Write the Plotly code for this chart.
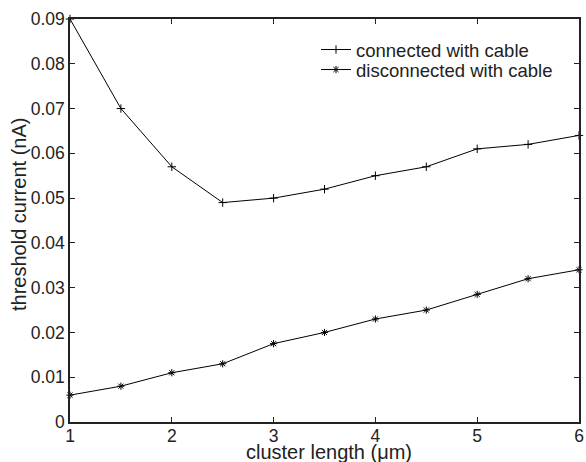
import plotly.graph_objects as go

cluster_length = [1, 1.5, 2, 2.5, 3, 3.5, 4, 4.5, 5, 5.5, 6]
connected = [0.09, 0.07, 0.057, 0.049, 0.05, 0.052, 0.055, 0.057, 0.061, 0.062, 0.064]
disconnected = [0.006, 0.008, 0.011, 0.013, 0.0175, 0.020, 0.023, 0.025, 0.0285, 0.032, 0.034]

x_ticks = [1, 2, 3, 4, 5, 6]
y_ticks = [0, 0.01, 0.02, 0.03, 0.04, 0.05, 0.06, 0.07, 0.08, 0.09]

fig = go.Figure()
fig.add_trace(go.Scatter(
    x=cluster_length, y=connected, mode="lines+markers",
    name="connected with cable", legend="legend",
    line=dict(color="black", width=1),
    marker=dict(symbol="cross-thin", size=6, color="black",
                line=dict(color="black", width=1)),
    cliponaxis=False,
))
fig.add_trace(go.Scatter(
    x=cluster_length, y=disconnected, mode="lines+markers",
    name="disconnected with cable", legend="legend2",
    line=dict(color="black", width=1),
    marker=dict(symbol="asterisk", size=6, color="black",
                line=dict(color="black", width=1)),
    cliponaxis=False,
))

axis_common = dict(
    showline=True, linecolor="#222", linewidth=1.5, mirror="allticks",
    ticks="inside", ticklen=5, tickcolor="#222", showgrid=False,
    zeroline=False, tickfont=dict(size=17.5, color="#222"), automargin=False,
)

L, R, T, B = 70, 7, 19, 40
W, H = 586, 462
plot_w = W - L - R
plot_h = H - T - B


def px_x(px):
    return (px - L) / plot_w


def px_y(py):
    return (H - B - py) / plot_h


legend_common = dict(xanchor="left", yanchor="middle", bgcolor="rgba(0,0,0,0)",
                     borderwidth=0, font=dict(size=18.5, color="#222"))

fig.update_layout(
    width=W, height=H,
    margin=dict(l=L, r=R, t=T, b=B, autoexpand=False),
    paper_bgcolor="white", plot_bgcolor="white",
    font=dict(family="Liberation Sans, Arial, sans-serif", color="#222", size=17),
    xaxis=dict(range=[1, 6], tickvals=x_ticks, ticktext=[str(v) for v in x_ticks],
               ticklabelstandoff=-3, **axis_common),
    yaxis=dict(range=[0, 0.09], tickvals=y_ticks,
               ticktext=["0" if v == 0 else f"{v:.2f}" for v in y_ticks],
               **axis_common),
    legend=dict(x=px_x(316), y=px_y(50), **legend_common),
    legend2=dict(x=px_x(316), y=px_y(70), **legend_common),
    showlegend=True,
    annotations=[
        dict(text="cluster length (μm)", xref="paper", yref="paper",
             x=px_x(329), y=px_y(452), xanchor="center", yanchor="middle",
             showarrow=False, font=dict(size=20, color="#222")),
        dict(text="threshold current (nA)", xref="paper", yref="paper",
             x=px_x(19), y=px_y(215), xanchor="center", yanchor="middle",
             textangle=-90, showarrow=False, font=dict(size=20, color="#222")),
    ],
)

fig.write_html("out.html")
